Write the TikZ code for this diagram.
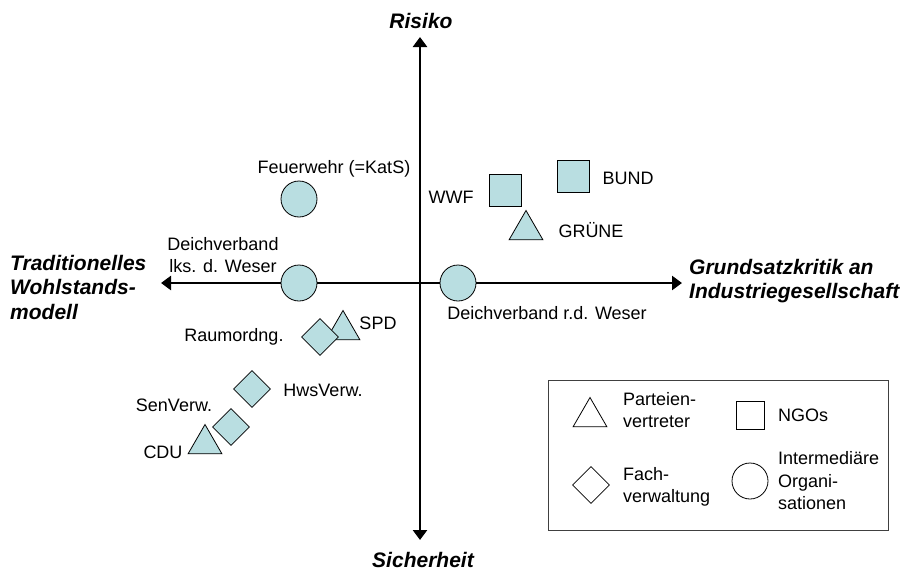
\documentclass[tikz,border=0pt]{standalone}
\usepackage{fontspec}
\setmainfont{Liberation Sans}
\usetikzlibrary{shapes.geometric,arrows.meta}

\definecolor{akteur}{RGB}{185,222,225}

\tikzset{
  achse/.style={line width=2.6pt, {Triangle[length=10pt,width=14pt]}-{Triangle[length=10pt,width=14pt]}},
  pol/.style={font=\fontsize{21}{24.5}\selectfont\bfseries\itshape, inner sep=0pt, align=left},
  txt/.style={font=\fontsize{18}{22.5}\selectfont, inner sep=0pt},
  kreis/.style={circle, draw, line width=0.8pt, fill=akteur, minimum size=36pt, inner sep=0pt},
  quadrat/.style={rectangle, draw, line width=0.8pt, fill=akteur, minimum size=32pt, inner sep=0pt},
  raute/.style={diamond, draw, line width=0.8pt, fill=akteur, minimum width=37pt, minimum height=37pt, inner sep=0pt},
  dreieck/.style={regular polygon, regular polygon sides=3, draw, line width=0.8pt, fill=akteur, minimum size=39pt, inner sep=0pt}
}

\begin{document}
\begin{tikzpicture}[x=1pt, y=-1pt]
  \useasboundingbox (0,0) rectangle (906,573);

  % Achsen
  \coordinate (oben) at (420,37);
  \coordinate (unten) at (420,540);
  \coordinate (links) at (161,283);
  \coordinate (rechts) at (682,283);
  \draw[achse] (unten) -- (oben);
  \draw[achse] (links) -- (rechts);

  \node[pol, align=center] (risiko) at (421,21) {Risiko};
  \node[pol, align=center] (sicherheit) at (423,560) {Sicherheit};
  \node[pol, anchor=west] (tradition) at (10,287) {Traditionelles\\Wohlstands-\\modell};
  \node[pol, anchor=west] (kritik) at (689,281) {Grundsatzkritik an\\Industriegesellschaft};

  % Akteure
  \node[kreis] (feuerwehr) at (299,199) {};
  \node[txt] (feuerwehr-txt) at (334,169) {Feuerwehr (=KatS)};
  \node[kreis] (deichL) at (299,283) {};
  \node[txt, align=center] (deichL-txt) at (223,255) {Deichverband\\lks. d. Weser};
  \node[kreis] (deichR) at (458,283) {};
  \node[txt] (deichR-txt) at (547,313) {Deichverband r.d. Weser};

  \node[quadrat] (wwf) at (505,190) {};
  \node[txt] (wwf-txt) at (451,197) {WWF};
  \node[quadrat] (bund) at (573,176) {};
  \node[txt] (bund-txt) at (628,178) {BUND};
  \node[dreieck] (gruene) at (526,230) {};
  \node[txt] (gruene-txt) at (591,230) {GRÜNE};

  \node[dreieck] (spd) at (343,330) {};
  \node[txt] (spd-txt) at (378,323) {SPD};
  \node[raute] (raum) at (320,337) {};
  \node[txt] (raum-txt) at (234,337) {Raumordng.};
  \node[raute] (hws) at (252,389) {};
  \node[txt] (hws-txt) at (323,390) {HwsVerw.};
  \node[raute] (sen) at (231,427) {};
  \node[txt] (sen-txt) at (174,405) {SenVerw.};
  \node[dreieck] (cdu) at (205,444) {};
  \node[txt] (cdu-txt) at (163,452) {CDU};

  % Legende
  \node[draw=black!75, line width=1.2pt, minimum width=340pt, minimum height=150pt, inner sep=0pt, anchor=north west] (legende) at (548,380) {};
  \node[dreieck, fill=white] (leg-partei) at (590,417) {};
  \node[txt, anchor=west, align=left] (leg-partei-txt) at (623,410) {Parteien-\\vertreter};
  \node[quadrat, fill=white, minimum size=28pt] (leg-ngo) at (750,415) {};
  \node[txt, anchor=west] (leg-ngo-txt) at (778,415) {NGOs};
  \node[raute, fill=white] (leg-fach) at (591,485) {};
  \node[txt, anchor=west, align=left] (leg-fach-txt) at (623,487) {Fach-\\verwaltung};
  \node[kreis, fill=white] (leg-inter) at (750,481) {};
  \node[txt, anchor=west, align=left] (leg-inter-txt) at (778,481) {Intermediäre\\Organi-\\sationen};
\end{tikzpicture}
\end{document}
